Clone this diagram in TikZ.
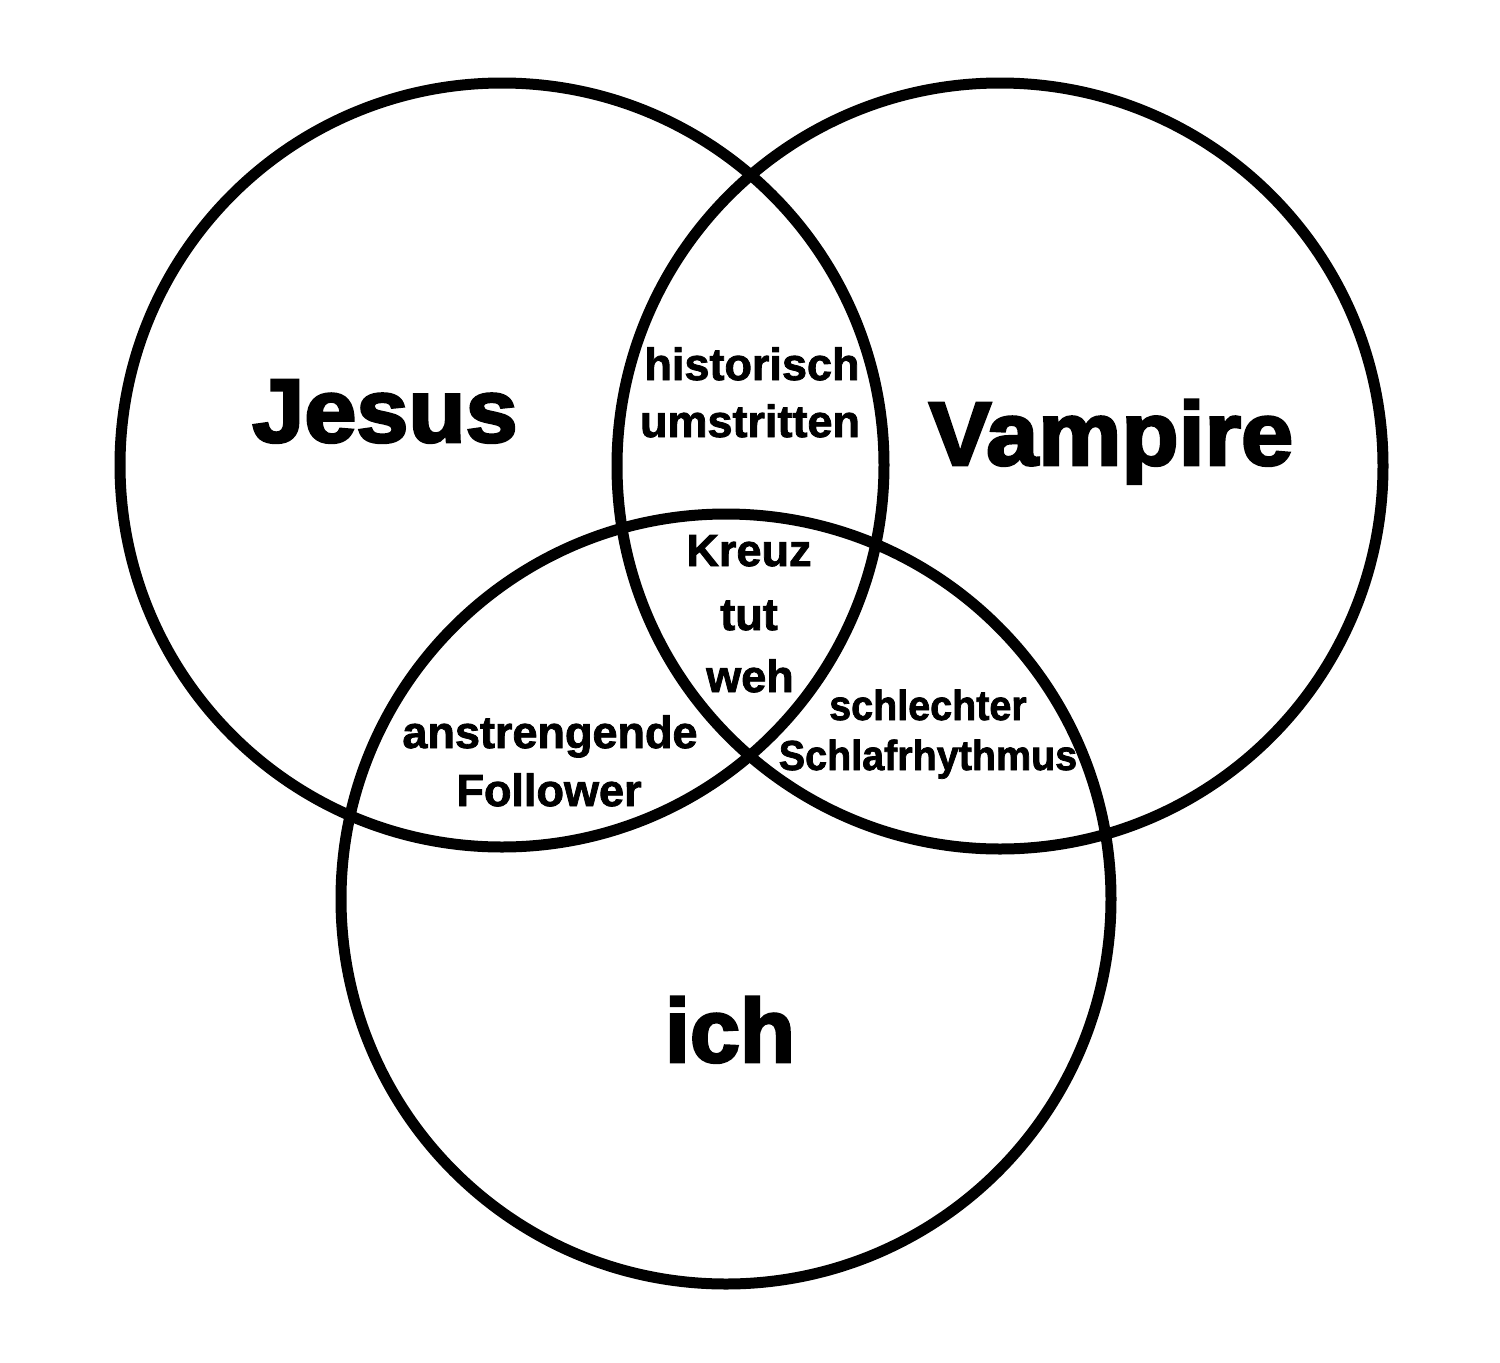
\documentclass[tikz,border=0pt]{standalone}
\usepackage{fontspec}
\setmainfont{Liberation Sans}
\newfontfamily\heavyfont{Liberation Sans Bold}[FakeBold=3]
\newfontfamily\medfont{Liberation Sans Bold}[FakeBold=1.8]
\begin{document}
\begin{tikzpicture}[x=1pt,y=-1pt,
  ring/.style={draw=black,line width=11pt},
  big/.style={font=\heavyfont\fontsize{90}{90}\selectfont, anchor=base, inner sep=0pt},
  small/.style={font=\medfont\fontsize{45}{45}\selectfont, anchor=base, inner sep=0pt},
  smaller/.style={font=\medfont\fontsize{42}{42}\selectfont, anchor=base, inner sep=0pt}]
\useasboundingbox[fill=white] (0,0) rectangle (1500,1363);
\coordinate (cJ) at (502,465);
\coordinate (cV) at (1000,466);
\coordinate (cI) at (726,899);
\draw[ring] (cJ) circle[radius=382pt];
\draw[ring] (cV) circle[radius=383pt];
\draw[ring] (cI) circle[radius=385pt];
\node[big] (jesus) at (385,442) {\scalebox{1.04}[1]{Jesus}};
\node[big] (vampire) at (1111,465) {\scalebox{1.04}[1]{Vampire}};
\node[big] (ich) at (730,1062) {ich};
\node[small] (hist) at (752,380) {historisch};
\node[small] (umst) at (750,437) {umstritten};
\node[small] (kreuz) at (749,566) {Kreuz};
\node[small] (tut) at (749,630) {tut};
\node[small] (weh) at (750,692) {weh};
\node[small] (anst) at (550,748) {anstrengende};
\node[small] (foll) at (549,806) {Follower};
\node[smaller] (schl) at (928,720) {\scalebox{0.94}[1]{schlechter}};
\node[smaller] (rhy) at (928,770) {\scalebox{0.94}[1]{Schlafrhythmus}};
\end{tikzpicture}
\end{document}
